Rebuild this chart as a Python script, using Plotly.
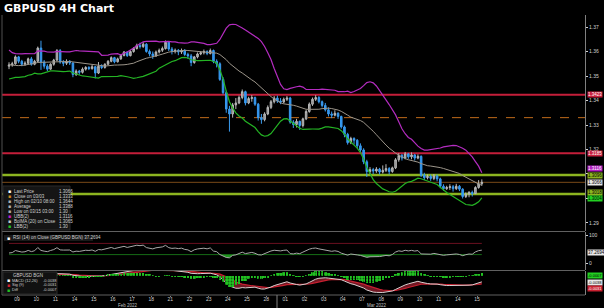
import numpy as np
import pandas as pd
import plotly.graph_objects as go

W, H = 604, 308
ML, MR, MT, MB = 2, 19, 15, 13
PW = W - ML - MR
PH = H - MT - MB

def px_x(px):
    return (px - ML) / PW

def px_y(py):
    return 1 - (py - MT) / PH

# ---------------- data ----------------
day_labels = ["09", "10", "11", "14", "15", "16", "17", "18", "21", "22", "23", "24", "25", "28",
              "01", "02", "03", "04", "07", "08", "09", "10", "11", "14", "15"]
month_labels = ["Feb 2022", "Mar 2022"]
candles_per_day = 6

pre_closes = [1.3610, 1.3595, 1.3570, 1.3545, 1.3520, 1.3505, 1.3525, 1.3510, 1.3530, 1.3550,
              1.3520, 1.3505, 1.3528, 1.3560, 1.3590, 1.3575, 1.3565, 1.3548, 1.3540]
first_open = 1.3540

closes = [
    1.3545, 1.3550, 1.3578, 1.3560, 1.3548, 1.3552,
    1.3570, 1.3548, 1.3560, 1.3614, 1.3557, 1.3540,
    1.3528, 1.3548, 1.3565, 1.3604, 1.3557, 1.3552,
    1.3560, 1.3553, 1.3506, 1.3520, 1.3515, 1.3528,
    1.3535, 1.3530, 1.3538, 1.3512, 1.3540, 1.3535,
    1.3548, 1.3560, 1.3575, 1.3558, 1.3570, 1.3584,
    1.3598, 1.3583, 1.3600, 1.3612, 1.3625, 1.3620,
    1.3630, 1.3600, 1.3590, 1.3582, 1.3598, 1.3605,
    1.3612, 1.3638, 1.3610, 1.3600, 1.3605, 1.3598,
    1.3604, 1.3588, 1.3582, 1.3555, 1.3578, 1.3590,
    1.3595, 1.3600, 1.3592, 1.3604, 1.3560, 1.3550,
    1.3486, 1.3432, 1.3365, 1.3345, 1.3382, 1.3390,
    1.3412, 1.3436, 1.3390, 1.3408, 1.3412, 1.3385,
    1.3330, 1.3322, 1.3345, 1.3372, 1.3395, 1.3410,
    1.3398, 1.3394, 1.3405, 1.3410, 1.3312, 1.3302,
    1.3315, 1.3298, 1.3325, 1.3355, 1.3385, 1.3405,
    1.3412, 1.3395, 1.3380, 1.3362, 1.3345, 1.3340,
    1.3348, 1.3335, 1.3292, 1.3262, 1.3228, 1.3245,
    1.3238, 1.3215, 1.3198, 1.3150, 1.3110, 1.3118,
    1.3112, 1.3120, 1.3108, 1.3115, 1.3122, 1.3110,
    1.3125, 1.3158, 1.3176, 1.3165, 1.3182, 1.3170,
    1.3178, 1.3165, 1.3172, 1.3095, 1.3085, 1.3090,
    1.3082, 1.3092, 1.3080, 1.3050, 1.3040, 1.3045,
    1.3048, 1.3040, 1.3050, 1.3038, 1.3008, 1.3018,
    1.3025, 1.3020, 1.3045, 1.3060, 1.3066,
]
highs = [
    1.3556, 1.3558, 1.3584, 1.3582, 1.3566, 1.3560,
    1.3575, 1.3578, 1.3566, 1.3620, 1.3644, 1.3565,
    1.3548, 1.3552, 1.3570, 1.3610, 1.3610, 1.3565,
    1.3568, 1.3565, 1.3556, 1.3527, 1.3525, 1.3535,
    1.3540, 1.3540, 1.3545, 1.3540, 1.3557, 1.3548,
    1.3552, 1.3565, 1.3580, 1.3578, 1.3575, 1.3590,
    1.3602, 1.3600, 1.3605, 1.3618, 1.3632, 1.3636,
    1.3638, 1.3634, 1.3608, 1.3600, 1.3604, 1.3612,
    1.3620, 1.3645, 1.3642, 1.3618, 1.3612, 1.3610,
    1.3612, 1.3610, 1.3595, 1.3590, 1.3582, 1.3596,
    1.3602, 1.3608, 1.3605, 1.3612, 1.3608, 1.3568,
    1.3556, 1.3495, 1.3440, 1.3378, 1.3390, 1.3410,
    1.3420, 1.3445, 1.3440, 1.3415, 1.3422, 1.3416,
    1.3390, 1.3345, 1.3352, 1.3380, 1.3402, 1.3418,
    1.3420, 1.3410, 1.3412, 1.3418, 1.3415, 1.3320,
    1.3325, 1.3318, 1.3330, 1.3362, 1.3392, 1.3412,
    1.3422, 1.3418, 1.3400, 1.3390, 1.3372, 1.3355,
    1.3360, 1.3352, 1.3338, 1.3298, 1.3268, 1.3252,
    1.3250, 1.3242, 1.3225, 1.3205, 1.3158, 1.3128,
    1.3125, 1.3128, 1.3125, 1.3135, 1.3140, 1.3128,
    1.3130, 1.3165, 1.3185, 1.3182, 1.3190, 1.3186,
    1.3188, 1.3182, 1.3180, 1.3176, 1.3105, 1.3098,
    1.3098, 1.3100, 1.3098, 1.3085, 1.3058, 1.3052,
    1.3058, 1.3055, 1.3060, 1.3055, 1.3042, 1.3025,
    1.3030, 1.3032, 1.3050, 1.3075, 1.3078,
]
lows = [
    1.3528, 1.3538, 1.3546, 1.3552, 1.3540, 1.3542,
    1.3545, 1.3542, 1.3544, 1.3555, 1.3525, 1.3530,
    1.3520, 1.3525, 1.3542, 1.3560, 1.3550, 1.3540,
    1.3545, 1.3545, 1.3495, 1.3500, 1.3505, 1.3510,
    1.3522, 1.3524, 1.3526, 1.3490, 1.3508, 1.3528,
    1.3530, 1.3544, 1.3556, 1.3552, 1.3555, 1.3566,
    1.3580, 1.3578, 1.3580, 1.3595, 1.3608, 1.3612,
    1.3615, 1.3595, 1.3580, 1.3570, 1.3578, 1.3592,
    1.3598, 1.3608, 1.3602, 1.3588, 1.3592, 1.3585,
    1.3590, 1.3582, 1.3570, 1.3540, 1.3550, 1.3572,
    1.3585, 1.3588, 1.3585, 1.3588, 1.3552, 1.3535,
    1.3480, 1.3425, 1.3350, 1.3273, 1.3330, 1.3365,
    1.3385, 1.3405, 1.3380, 1.3385, 1.3395, 1.3378,
    1.3318, 1.3305, 1.3315, 1.3340, 1.3365, 1.3388,
    1.3390, 1.3385, 1.3388, 1.3398, 1.3305, 1.3288,
    1.3290, 1.3280, 1.3290, 1.3320, 1.3350, 1.3378,
    1.3398, 1.3388, 1.3372, 1.3355, 1.3335, 1.3328,
    1.3335, 1.3325, 1.3285, 1.3250, 1.3220, 1.3222,
    1.3220, 1.3205, 1.3190, 1.3140, 1.3088, 1.3100,
    1.3100, 1.3105, 1.3098, 1.3102, 1.3108, 1.3098,
    1.3105, 1.3120, 1.3150, 1.3155, 1.3160, 1.3162,
    1.3160, 1.3155, 1.3160, 1.3088, 1.3075, 1.3078,
    1.3072, 1.3075, 1.3070, 1.3042, 1.3032, 1.3035,
    1.3035, 1.3028, 1.3035, 1.3030, 1.3000, 1.3002,
    1.3005, 1.3008, 1.3018, 1.3040, 1.3052,
]

# price axis ticks (1.30 / 1.31 labels are hidden behind the value tags)
price_ticks = [1.29, 1.30, 1.31, 1.32, 1.33, 1.34, 1.35, 1.36, 1.37]
price_tick_text = ["1.29", "", "", "1.32", "1.33", "1.34", "1.35", "1.36", "1.37"]

# horizontal reference levels
level_red = [1.3423, 1.3185]
level_dash = [1.3330]
level_green = [1.3096, 1.3018]
last_price = 1.3066

# right-hand value tags: (text, bg, fg, pixel row)
tags = [
    ("1.3423", "#c8203e", "#ffffff", 94.5),
    ("1.3185", "#c8203e", "#ffffff", 153),
    ("1.3116", "#b020c0", "#ffffff", 168.5),
    ("1.3096", "#8cb420", "#000000", 175),
    ("1.3066", "#e8e8e8", "#000000", 182),
    ("1.3018", "#8cb420", "#000000", 192),
    ("1.3004", "#22d022", "#000000", 198.5),
]

legend_rows = [
    ("#ffffff", "Last Price", "1.3066"),
    ("#d08a20", "Close on 03/03", "1.3333"),
    ("#b0b0b0", "High on 02/10 08:00", "1.3644"),
    ("#b0b0b0", "Average", "1.3388"),
    ("#b0b0b0", "Low on 03/15 03:00", "1.30"),
    ("#c020c8", "UBB(2)", "1.3116"),
    ("#c8c8c8", "BolMA (20) on Close", "1.3065"),
    ("#22c022", "LBB(2)", "1.30"),
]
rsi_label = "RSI (14) on Close (GBPUSD BGN) 37.2694"
rsi_tag = "37.2694"
macd_rows = [
    ("#ffffff", "MACD (12,26)", "-0.0038"),
    ("#d02030", "Sig (9)", "-0.0031"),
    ("#22c022", "Diff", "-0.0007"),
]
macd_tags = [("-0.0007", "#22d022", "#000000", 275), ("-0.0038", "#e8e8e8", "#000000", 282.5),
             ("-0.0031", "#c82030", "#ffffff", 288)]

# ---------------- derived ----------------
opens = [first_open] + closes[:-1]
x = list(range(len(closes)))
npre = len(pre_closes)
allc = pd.Series(pre_closes + closes, index=range(-npre, len(closes)))
mid = allc.rolling(20).mean()
sd = allc.rolling(20).std(ddof=0)
upper = mid + 2 * sd
lower = mid - 2 * sd
vis = allc.index >= -3

d = allc.diff()
gain = d.clip(lower=0).ewm(alpha=1 / 14, adjust=False).mean()
loss = (-d.clip(upper=0)).ewm(alpha=1 / 14, adjust=False).mean()
rsi = 100 - 100 / (1 + gain / loss)
ema12 = allc.ewm(span=12, adjust=False).mean()
ema26 = allc.ewm(span=26, adjust=False).mean()
macd = ema12 - ema26
sig = macd.ewm(span=9, adjust=False).mean()
diff = macd - sig

xr = allc.index[vis]

fig = go.Figure()

# Bollinger bands
fig.add_trace(go.Scatter(x=xr, y=upper[vis], mode="lines", line=dict(color="#b42cc0", width=1.2), hoverinfo="skip"))
fig.add_trace(go.Scatter(x=xr, y=mid[vis], mode="lines", line=dict(color="#9c958a", width=1), hoverinfo="skip"))
fig.add_trace(go.Scatter(x=xr, y=lower[vis], mode="lines", line=dict(color="#24b424", width=1.2), hoverinfo="skip"))

fig.add_trace(go.Candlestick(
    x=x, open=opens, high=highs, low=lows, close=closes,
    increasing=dict(line=dict(color="#b8b8b8", width=1), fillcolor="#8a8a8a"),
    decreasing=dict(line=dict(color="#3a9cf0", width=1), fillcolor="#2a8ff0"),
    whiskerwidth=0, hoverinfo="skip"))

# RSI
rv = rsi[allc.index >= 0]
fig.add_trace(go.Scatter(x=x, y=[30] * len(x), mode="lines", line=dict(color="#156a15", width=1), yaxis="y2", hoverinfo="skip"))
fig.add_trace(go.Scatter(x=x, y=np.minimum(rv.values, 30), mode="lines", line=dict(width=0), fill="tonexty",
                         fillcolor="rgba(40,190,40,0.8)", yaxis="y2", hoverinfo="skip"))
fig.add_trace(go.Scatter(x=x, y=[70] * len(x), mode="lines", line=dict(color="#6a1020", width=1), yaxis="y2", hoverinfo="skip"))
fig.add_trace(go.Scatter(x=x, y=np.maximum(rv.values, 70), mode="lines", line=dict(width=0), fill="tonexty",
                         fillcolor="rgba(200,40,60,0.8)", yaxis="y2", hoverinfo="skip"))
fig.add_trace(go.Scatter(x=x, y=rv.values, mode="lines", line=dict(color="#a8a8a8", width=1), yaxis="y2", hoverinfo="skip"))

# MACD
mv = macd[allc.index >= 0].values
sv = sig[allc.index >= 0].values
dv = diff[allc.index >= 0].values
fig.add_trace(go.Bar(x=x, y=dv, marker=dict(color="#22c822", line=dict(width=0),
                                              pattern=dict(shape=".", fgcolor="#000000", size=3, solidity=0.3)),
                     width=0.8, yaxis="y4", hoverinfo="skip"))
fig.add_trace(go.Scatter(x=x, y=sv, mode="lines", line=dict(color="#c82030", width=1.2), yaxis="y3", hoverinfo="skip"))
fig.add_trace(go.Scatter(x=x, y=mv, mode="lines", line=dict(color="#d8d0d0", width=1), fill="tonexty",
                         fillcolor="rgba(190,40,60,0.6)", yaxis="y3", hoverinfo="skip"))

shapes = []
for v in level_red:
    shapes.append(dict(type="line", xref="paper", x0=0, x1=1, yref="y", y0=v, y1=v,
                       line=dict(color="#c41e3a", width=2), layer="below"))
for v in level_dash:
    shapes.append(dict(type="line", xref="paper", x0=0, x1=1, yref="y", y0=v, y1=v,
                       line=dict(color="#c06a1a", width=1, dash="dash"), layer="below"))
for v in level_green:
    shapes.append(dict(type="line", xref="paper", x0=0, x1=1, yref="y", y0=v, y1=v,
                       line=dict(color="#8cb420", width=2.5), layer="below"))
shapes.append(dict(type="line", xref="paper", x0=0, x1=1, yref="y", y0=last_price, y1=last_price,
                   line=dict(color="#7a4a18", width=1), layer="below"))

# panel separators & frame
for py in [231.5, 270.5, 295]:
    shapes.append(dict(type="line", xref="paper", x0=0, x1=1, yref="paper", y0=px_y(py), y1=px_y(py),
                       line=dict(color="#606060", width=1)))
shapes.append(dict(type="line", xref="paper", x0=0, x1=0, yref="paper", y0=0, y1=1,
                   line=dict(color="#505050", width=1)))
shapes.append(dict(type="line", xref="paper", x0=px_x(277), x1=px_x(277), yref="paper",
                   y0=px_y(295), y1=px_y(308), line=dict(color="#808080", width=1)))

# legend boxes
shapes.append(dict(type="rect", xref="paper", yref="paper", x0=px_x(3), x1=px_x(70), y0=px_y(230), y1=px_y(186),
                   fillcolor="#151515", line=dict(color="#2a2a2a", width=1), layer="above"))
shapes.append(dict(type="rect", xref="paper", yref="paper", x0=px_x(4), x1=px_x(93), y0=px_y(241), y1=px_y(235),
                   fillcolor="#1a1a1a", line=dict(width=0), layer="above"))
shapes.append(dict(type="rect", xref="paper", yref="paper", x0=px_x(3), x1=px_x(57), y0=px_y(294), y1=px_y(272),
                   fillcolor="#111111", line=dict(color="#2a2a2a", width=1), layer="above"))

ann = []
ann.append(dict(text="<b>GBPUSD 4H Chart</b>", xref="paper", yref="paper", x=px_x(2), y=px_y(8),
                xanchor="left", yanchor="middle", showarrow=False,
                font=dict(family="DejaVu Sans", size=11, color="#ffffff")))
small = "Liberation Sans"
for i, (col, lab, val) in enumerate(legend_rows):
    yy = px_y(191 + i * 5.04)
    ann.append(dict(text="■", xref="paper", yref="paper", x=px_x(6), y=yy, xanchor="left", yanchor="middle",
                    showarrow=False, font=dict(family=small, size=5, color=col)))
    ann.append(dict(text=lab, xref="paper", yref="paper", x=px_x(12), y=yy, xanchor="left", yanchor="middle",
                    showarrow=False, font=dict(family=small, size=4.5, color="#d0d0d0")))
    ann.append(dict(text=val, xref="paper", yref="paper", x=px_x(57), y=yy, xanchor="left", yanchor="middle",
                    showarrow=False, font=dict(family=small, size=4.5, color="#d0d0d0")))
ann.append(dict(text="■", xref="paper", yref="paper", x=px_x(5), y=px_y(238), xanchor="left", yanchor="middle",
                showarrow=False, font=dict(family=small, size=5, color="#ffffff")))
ann.append(dict(text=rsi_label, xref="paper", yref="paper", x=px_x(11), y=px_y(238), xanchor="left",
                yanchor="middle", showarrow=False, font=dict(family=small, size=4.5, color="#d0d0d0")))
ann.append(dict(text="GBPUSD BGN", xref="paper", yref="paper", x=px_x(28), y=px_y(275), xanchor="center",
                yanchor="middle", showarrow=False, font=dict(family=small, size=4.5, color="#d0d0d0")))
for i, (col, lab, val) in enumerate(macd_rows):
    yy = px_y(280 + i * 4.8)
    ann.append(dict(text="■", xref="paper", yref="paper", x=px_x(5), y=yy, xanchor="left", yanchor="middle",
                    showarrow=False, font=dict(family=small, size=5, color=col)))
    ann.append(dict(text=lab, xref="paper", yref="paper", x=px_x(10), y=yy, xanchor="left", yanchor="middle",
                    showarrow=False, font=dict(family=small, size=4, color="#d0d0d0")))
    ann.append(dict(text=val, xref="paper", yref="paper", x=px_x(41), y=yy, xanchor="left", yanchor="middle",
                    showarrow=False, font=dict(family=small, size=4, color="#d0d0d0")))

for t, bg, fg, py in tags:
    ann.append(dict(text=t, xref="paper", yref="paper", x=px_x(587), y=px_y(py), xanchor="left",
                    yanchor="middle", showarrow=False, bgcolor=bg, borderpad=0,
                    font=dict(family=small, size=4.5, color=fg)))
ann.append(dict(text=rsi_tag, xref="paper", yref="paper", x=px_x(587), y=px_y(252),
                xanchor="left", yanchor="middle", showarrow=False, bgcolor="#e8e8e8", borderpad=0,
                font=dict(family=small, size=4.5, color="#000000")))
for t, bg, fg, py in macd_tags:
    ann.append(dict(text=t, xref="paper", yref="paper", x=px_x(587), y=px_y(py),
                    xanchor="left", yanchor="middle", showarrow=False, bgcolor=bg, borderpad=0,
                    font=dict(family=small, size=4, color=fg)))
for mlab, mpx in zip(month_labels, [128, 377]):
    ann.append(dict(text=mlab, xref="paper", yref="paper", x=px_x(mpx), y=px_y(305.2),
                    xanchor="center", yanchor="middle", showarrow=False,
                    font=dict(family=small, size=4.5, color="#c0c0c0")))

tickvals = [i * candles_per_day + 2.5 for i in range(len(day_labels))]
axfont = dict(family=small, size=5, color="#d0d0d0")
fig.update_layout(
    width=W, height=H, margin=dict(l=ML, r=MR, t=MT, b=MB),
    paper_bgcolor="#000000", plot_bgcolor="#000000", showlegend=False,
    shapes=shapes, annotations=ann, bargap=0,
    xaxis=dict(range=[-2.2, 180.3], anchor="y3", tickvals=tickvals, ticktext=day_labels, tickfont=axfont,
               ticks="outside", ticklen=1, tickcolor="#808080", showgrid=False, zeroline=False,
               ticklabelstandoff=-2, rangeslider=dict(visible=False), showline=False),
    yaxis=dict(domain=[px_y(231), 1], range=[1.28673, 1.37490], side="right", anchor="x",
               tickvals=price_ticks, ticktext=price_tick_text,
               tickfont=axfont, ticks="outside", ticklen=2, tickcolor="#d0d0d0",
               showgrid=False, zeroline=False, showline=True, linecolor="#808080", linewidth=1),
    yaxis2=dict(domain=[px_y(270), px_y(232)], range=[-25, 110.7], side="right", anchor="x",
                tickvals=[0, 100], ticktext=["0", "100"], tickfont=axfont, ticks="outside", ticklen=2,
                tickcolor="#d0d0d0", showgrid=False, zeroline=False, showline=True, linecolor="#808080"),
    yaxis3=dict(domain=[0, px_y(271)], range=[-0.0079, 0.0011], side="right", anchor="x",
                showticklabels=False, ticks="", showgrid=False, zeroline=False, showline=True,
                linecolor="#808080"),
    yaxis4=dict(overlaying="y3", range=[-0.00475, 0.00125], visible=False),
)

fig.write_html("out.html")
